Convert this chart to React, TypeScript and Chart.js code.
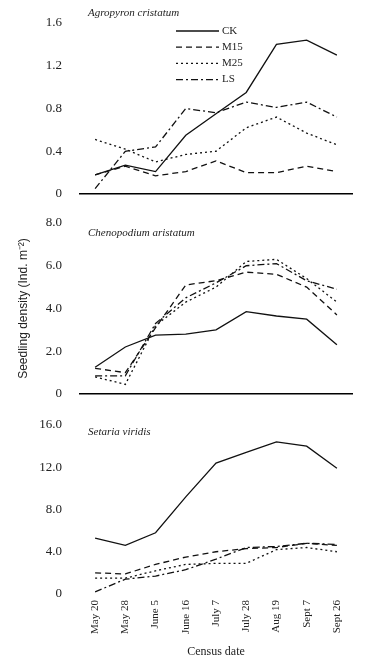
import React, { useEffect, useRef } from 'react';
import { Chart, registerables } from 'chart.js';

Chart.register(...registerables);

// ---------- data ----------
const categories = ['May 20', 'May 28', 'June 5', 'June 16', 'July 7', 'July 28', 'Aug 19', 'Sept 7', 'Sept 26'];
const seriesNames = ['CK', 'M15', 'M25', 'LS'];

const agroCK = [0.18, 0.27, 0.21, 0.55, 0.75, 0.95, 1.40, 1.44, 1.30];
const agroM15 = [0.18, 0.26, 0.17, 0.21, 0.31, 0.20, 0.20, 0.26, 0.21];
const agroM25 = [0.51, 0.42, 0.30, 0.37, 0.40, 0.62, 0.72, 0.57, 0.46];
const agroLS = [0.05, 0.40, 0.44, 0.80, 0.76, 0.86, 0.81, 0.86, 0.72];

const chenoCK = [1.25, 2.2, 2.75, 2.8, 3.0, 3.85, 3.65, 3.5, 2.3];
const chenoM15 = [1.2, 1.0, 3.1, 5.1, 5.3, 5.7, 5.6, 5.0, 3.7];
const chenoM25 = [0.8, 0.45, 3.2, 4.3, 5.0, 6.2, 6.3, 5.4, 4.3];
const chenoLS = [0.85, 0.85, 3.3, 4.5, 5.2, 6.0, 6.1, 5.3, 4.9];

const setaCK = [5.3, 4.6, 5.8, 9.2, 12.4, 13.4, 14.4, 14.0, 11.9];
const setaM15 = [2.0, 1.9, 2.8, 3.5, 4.0, 4.3, 4.4, 4.8, 4.6];
const setaM25 = [1.5, 1.5, 2.2, 2.8, 2.9, 2.9, 4.2, 4.4, 4.0];
const setaLS = [0.2, 1.4, 1.7, 2.3, 3.3, 4.4, 4.5, 4.8, 4.7];

const speciesNames = ['Agropyron cristatum', 'Chenopodium aristatum', 'Setaria viridis'];
const yMaxes = [1.6, 8, 16];
const ySteps = [0.4, 2, 4];
const yAxisTitle = 'Seedling density (Ind. m\u207B\u00B2)';
const xAxisTitle = 'Census date';

// ---------- styles ----------
const SERIF = "'Liberation Serif', 'Times New Roman', serif";
const SANS = "'Liberation Sans', Arial, sans-serif";
const dashes: number[][] = [[], [6, 4], [2, 3], [7, 3, 2, 3]];

const annotatePlugin = {
  id: 'annotate',
  afterDraw(chart: any, _args: any, opts: any) {
    const { ctx, chartArea } = chart;
    ctx.save();
    ctx.fillStyle = '#222';
    ctx.textBaseline = 'middle';
    ctx.textAlign = 'left';
    ctx.font = `italic 11px ${SERIF}`;
    ctx.fillText(opts.species, chartArea.left + opts.titleDx, opts.titleY);
    if (opts.legend) {
      chart.data.datasets.forEach((ds: any, i: number) => {
        const y = opts.legendY + i * opts.legendGap;
        ctx.strokeStyle = '#111';
        ctx.lineWidth = 1.3;
        ctx.setLineDash(ds.borderDash || []);
        ctx.beginPath();
        ctx.moveTo(opts.legendX, y);
        ctx.lineTo(opts.legendX + opts.legendLen, y);
        ctx.stroke();
        ctx.setLineDash([]);
        ctx.font = `11px ${SERIF}`;
        ctx.fillText(ds.label, opts.legendX + opts.legendLen + 3, y);
      });
    }
    ctx.restore();
  },
};

type PanelProps = {
  top: number;
  height: number;
  padTop: number;
  xHeight: number;
  series: number[][];
  idx: number;
  last: boolean;
  yTitle: boolean;
  legend: boolean;
  titleY: number;
};

function Panel(p: PanelProps) {
  const ref = useRef<HTMLCanvasElement | null>(null);
  useEffect(() => {
    if (!ref.current) return;
    const chart = new Chart(ref.current, {
      type: 'line',
      data: {
        labels: categories,
        datasets: p.series.map((vals, i) => ({
          label: seriesNames[i],
          data: vals,
          borderColor: '#111',
          borderWidth: 1.3,
          borderDash: dashes[i],
          pointRadius: 0,
          fill: false,
          tension: 0,
        })),
      },
      options: {
        responsive: false,
        animation: false,
        layout: { autoPadding: false, padding: { top: p.padTop, right: 19, left: 0, bottom: 0 } },
        plugins: {
          legend: { display: false },
          tooltip: { enabled: false },
          annotate: {
            species: speciesNames[p.idx],
            titleDx: 8,
            titleY: p.titleY,
            legend: p.legend,
            legendX: 176,
            legendLen: 43,
            legendY: 31,
            legendGap: 16.2,
          },
        } as any,
        scales: {
          x: {
            type: 'category',
            offset: true,
            grid: { display: false, drawTicks: false },
            border: { display: !p.last, color: '#000', width: 1.5 },
            ticks: {
              display: p.last,
              autoSkip: false,
              maxRotation: 90,
              minRotation: 90,
              padding: 6,
              color: '#222',
              font: { family: SERIF, size: 11 },
            },
            title: {
              display: p.last,
              text: xAxisTitle,
              color: '#222',
              font: { family: SERIF, size: 12 },
              padding: { top: 0, bottom: 8 },
            },
            afterFit: (s: any) => {
              s.height = p.xHeight;
            },
          },
          y: {
            min: 0,
            max: yMaxes[p.idx],
            grid: { display: false, drawTicks: true, tickLength: 15 },
            border: { display: false },
            ticks: {
              stepSize: ySteps[p.idx],
              padding: 3,
              color: '#222',
              font: { family: SERIF, size: 13 },
              callback: (v: any) => (Number(v) === 0 ? '0' : Number(v).toFixed(1)),
            },
            title: {
              display: p.yTitle,
              text: yAxisTitle,
              color: '#222',
              font: { family: SANS, size: 12 },
              padding: { top: 16, bottom: 0 },
            },
            afterFit: (s: any) => {
              s.width = 80;
            },
          },
        },
      },
      plugins: [annotatePlugin],
    } as any);
    return () => chart.destroy();
  }, []);
  return (
    <canvas
      ref={ref}
      width={371}
      height={p.height}
      style={{ position: 'absolute', left: 0, top: p.top, width: 371, height: p.height }}
    />
  );
}

export default function App() {
  return (
    <div style={{ position: 'fixed', left: 0, top: 0, width: 371, height: 667, background: '#fff' }}>
      <Panel top={0} height={205} padTop={23} xHeight={11} idx={0} last={false} yTitle={false} legend={true} titleY={13}
        series={[agroCK, agroM15, agroM25, agroLS]} />
      <Panel top={205} height={200} padTop={18} xHeight={11} idx={1} last={false} yTitle={true} legend={false} titleY={28}
        series={[chenoCK, chenoM15, chenoM25, chenoLS]} />
      <Panel top={405} height={262} padTop={20} xHeight={73} idx={2} last={true} yTitle={false} legend={false} titleY={27}
        series={[setaCK, setaM15, setaM25, setaLS]} />
    </div>
  );
}
